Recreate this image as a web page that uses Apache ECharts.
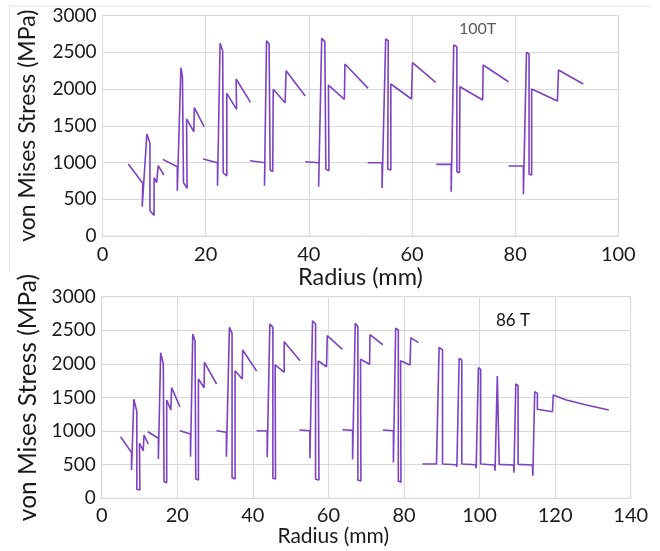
<!DOCTYPE html>
<html><head><meta charset="utf-8">
<script src="https://cdn.jsdelivr.net/npm/echarts@6/dist/echarts.min.js"></script>
<style>html,body{margin:0;padding:0;background:#fff}#c{width:660px;height:551px}</style>
</head><body><div id="c"></div><script>
// ---- data (Radius mm, von Mises MPa) ----
const yRange = [0, 3000, 500];
const xRangeTop = [0, 100, 20];
const xRangeBottom = [0, 140, 20];
const labelTop = '100T';
const labelBottom = '86 T';

const top1 = [[5.0,980],[7.8,717],[7.7,399],[8.6,1388],[9.2,1261],[9.2,344],[10.0,281],[10.0,794],[10.5,726],[10.8,957],[11.9,830]];
const top2 = [[11.7,1043],[14.5,943],[14.5,616],[15.2,2290],[15.5,2168],[15.7,726],[16.4,649],[16.3,1592],[17.7,1419],[17.8,1746],[19.7,1487]];
const top3 = [[19.5,1048],[22.3,997],[22.3,685],[22.8,2622],[23.3,2521],[23.4,861],[24.1,816],[24.1,1941],[26.0,1723],[25.9,2136],[28.7,1819]];
const top4 = [[28.6,1024],[31.5,997],[31.4,685],[31.8,2657],[32.3,2612],[32.5,898],[33.0,875],[33.1,1996],[35.4,1814],[35.6,2249],[39.3,1905]];
const top5 = [[39.3,1011],[42.0,997],[41.9,671],[42.5,2689],[43.1,2644],[43.3,907],[43.9,888],[43.8,2054],[46.9,1860],[47.0,2340],[51.5,2009]];
const top6 = [[51.4,997],[54.2,997],[54.2,649],[54.9,2680],[55.4,2657],[55.3,912],[55.9,898],[55.9,2068],[59.9,1864],[60.1,2358],[64.6,2091]];
const top7 = [[64.7,975],[67.6,975],[67.6,603],[68.1,2599],[68.7,2576],[68.7,875],[69.2,861],[69.3,2031],[73.7,1850],[73.8,2326],[78.7,2099]];
const top8 = [[78.7,952],[81.6,952],[81.6,567],[82.2,2499],[82.7,2476],[82.7,839],[83.2,830],[83.2,2000],[88.2,1837],[88.4,2258],[93.2,2068]];

const bot1 = [[5.0,917],[7.9,679],[7.9,421],[8.5,1473],[9.3,1289],[9.3,134],[10.1,124],[10.0,818],[11.0,708],[11.2,942],[12.3,808]];
const bot2 = [[12.2,991],[15.0,893],[15.0,585],[15.6,2167],[16.3,1998],[16.5,247],[17.2,232],[17.2,1463],[18.3,1314],[18.5,1646],[20.7,1363]];
const bot3 = [[20.7,1006],[23.5,957],[23.5,619],[24.1,2445],[24.7,2341],[24.9,287],[25.6,272],[25.6,1775],[27.1,1646],[27.2,2024],[30.4,1701]];
const bot4 = [[30.4,1006],[33.0,982],[33.0,619],[33.8,2544],[34.5,2455],[34.5,306],[35.3,287],[35.3,1899],[37.2,1775],[37.3,2207],[41.0,1894]];
const bot5 = [[41.0,1006],[43.8,1001],[43.8,610],[44.5,2594],[45.3,2544],[45.3,298],[46.0,287],[45.9,1984],[48.3,1875],[48.3,2330],[52.5,2047]];
const bot6 = [[52.3,1016],[55.1,1006],[55.1,595],[55.8,2643],[56.6,2594],[56.6,283],[57.5,272],[57.3,2043],[59.5,1958],[59.7,2420],[63.7,2217]];
const bot7 = [[63.7,1021],[66.4,1011],[66.4,578],[67.1,2604],[67.8,2554],[67.8,272],[68.6,258],[68.5,2070],[70.9,1995],[71.0,2435],[74.4,2285]];
const bot8 = [[74.4,1016],[77.2,1006],[77.2,533],[77.8,2530],[78.5,2504],[78.5,257],[79.2,238],[79.1,2047],[81.6,1984],[81.8,2390],[83.8,2316]];
const bot9 = [[84.9,510],[88.6,510],[89.3,2247],[90.2,2207],[90.2,510],[93.8,500],[94.0,470],[94.6,2083],[95.3,2058],[95.3,510],
  [99.0,500],[99.1,446],[99.7,1944],[100.3,1919],[100.3,510],[104.0,496],[104.1,411],[104.7,1820],[105.2,1795],[105.2,505],
  [109.0,496],[109.1,381],[109.6,1701],[110.2,1676],[110.2,505],[114.0,496],[114.1,337],[114.6,1587],[115.3,1562],[115.3,1324],
  [119.3,1289],[119.5,1537],[119.8,1545],[123.0,1463],[128.3,1389],[134.2,1314]];

const topSegments = [top1, top2, top3, top4, top5, top6, top7, top8];
const bottomSegments = [bot1, bot2, bot3, bot4, bot5, bot6, bot7, bot8, bot9];

// ---- chart ----
const LINE = '#7D42C2';
const FONT = 'Lato';
const TXT = '#1a1a1a';
const GRIDC = '#d9d9d9';

function xAxis(idx, r, fs, gap, margin, pad) {
  return {type:'value', gridIndex: idx, min: r[0], max: r[1], interval: r[2],
    name: 'Radius (mm)', nameLocation: 'middle', nameGap: gap,
    nameTextStyle: {fontFamily: FONT, fontSize: fs, color: TXT, padding: pad},
    axisLine: {show: true, lineStyle: {color: GRIDC}}, axisTick: {show: false},
    axisLabel: {fontFamily: FONT, fontSize: 20, color: TXT, margin: margin, formatter: v => String(v)},
    splitLine: {show: true, lineStyle: {color: GRIDC, width: 1}}};
}
function yAxis(idx, fs, gap) {
  return {type:'value', gridIndex: idx, min: yRange[0], max: yRange[1], interval: yRange[2],
    name: 'von Mises Stress (MPa)', nameLocation: 'middle', nameGap: gap, nameRotate: 90,
    nameTextStyle: {fontFamily: FONT, fontSize: fs, color: TXT},
    axisLine: {show: true, lineStyle: {color: GRIDC}}, axisTick: {show: false},
    axisLabel: {fontFamily: FONT, fontSize: 19, color: TXT, margin: 6, formatter: v => String(v)},
    splitLine: {show: true, lineStyle: {color: GRIDC, width: 1}}};
}
const series = [];
topSegments.forEach(s => series.push({type:'line', xAxisIndex:0, yAxisIndex:0, data:s, showSymbol:false, symbol:'none', lineStyle:{color:LINE, width:1.6}, animation:false}));
bottomSegments.forEach(s => series.push({type:'line', xAxisIndex:1, yAxisIndex:1, data:s, showSymbol:false, symbol:'none', lineStyle:{color:LINE, width:1.6}, animation:false}));

const chart = echarts.init(document.getElementById('c'), null, {renderer:'canvas'});
chart.setOption({
  backgroundColor: '#fff',
  animation: false,
  grid: [
    {left: 102.5, right: 41.7, top: 15.5, bottom: 315, show: true, borderColor: GRIDC, borderWidth: 1, backgroundColor:'transparent'},
    {left: 101.7, right: 29.3, top: 296.7, bottom: 52.7, show: true, borderColor: GRIDC, borderWidth: 1, backgroundColor:'transparent'}
  ],
  xAxis: [xAxis(0, xRangeTop, 23.5, 22, 9, 0), xAxis(1, xRangeBottom, 21, 27, 7, [0, 66, 0, 0])],
  yAxis: [yAxis(0, 23, 63), yAxis(1, 24.5, 60)],
  series: series,
  graphic: [
    {type:'line', shape:{x1:10, y1:6, x2:650, y2:6}, style:{stroke:'#e3e3e3', lineWidth:1}},
    {type:'line', shape:{x1:9.5, y1:6, x2:9.5, y2:273}, style:{stroke:'#e3e3e3', lineWidth:1}},
    {type:'rect', shape:{x:556, y:309, width:78, height:20}, style:{fill:'#fff'}},
    {type:'text', left: 459, top: 21, style:{text: labelTop, font: '16px ' + FONT, fill:'#595959'}},
    {type:'text', left: 496, top: 312, style:{text: labelBottom, font: '17px ' + FONT, fill:'#111'}}
  ]
});
</script></body></html>
